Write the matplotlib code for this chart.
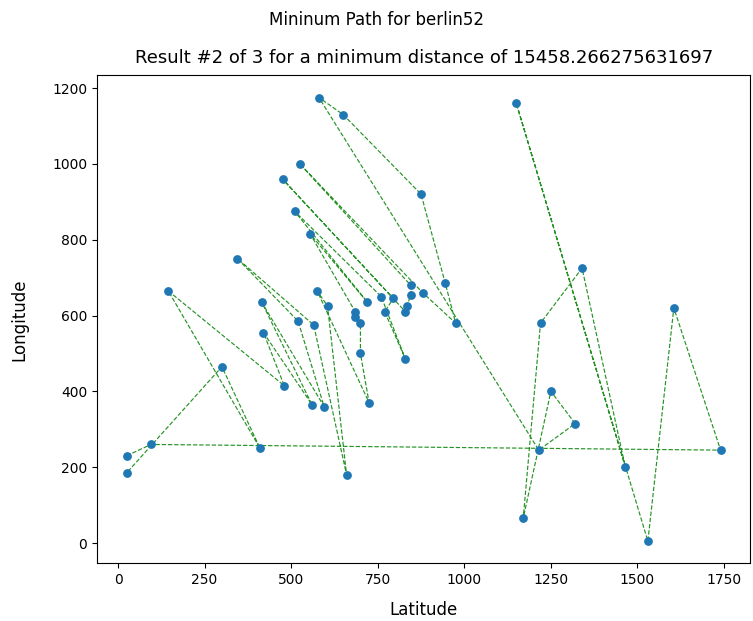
import matplotlib
matplotlib.use("Agg")
import matplotlib.pyplot as plt

# berlin52 city coordinates (city id = index + 1)
node_x = [565, 25, 345, 945, 845, 880, 25, 525, 580, 650, 1605, 1220, 1465, 1530, 845, 725, 145, 415, 510, 560,
          300, 520, 480, 835, 975, 1215, 1320, 1250, 660, 410, 420, 575, 1150, 700, 685, 685, 770, 795, 720, 760,
          475, 95, 875, 700, 555, 830, 1170, 830, 605, 595, 1340, 1740]
node_y = [575, 185, 750, 685, 655, 660, 230, 1000, 1175, 1130, 620, 580, 200, 5, 680, 370, 665, 635, 875, 365,
          465, 585, 415, 625, 580, 245, 315, 400, 180, 250, 555, 665, 1160, 580, 595, 610, 610, 645, 635, 650,
          960, 260, 920, 500, 815, 485, 65, 610, 625, 360, 725, 245]

# visiting order of the plotted path (1-based city ids)
route = [7, 42, 52, 11, 14, 33, 13, 51, 12, 47, 28, 27, 26, 9, 10, 43, 4, 25, 6, 8,
         15, 5, 24, 48, 41, 38, 37, 46, 40, 19, 39, 45, 36, 35, 34, 44, 16, 32, 49, 29,
         1, 3, 22, 50, 18, 20, 31, 23, 17, 30, 21, 2]

title = "Mininum Path for berlin52"
subtitle = "Result #2 of 3 for a minimum distance of 15458.266275631697"
x_label = "Latitude"
y_label = "Longitude"

fig = plt.figure(figsize=(7.53, 6.21), dpi=100)
ax = fig.add_axes([0.1288, 0.0929, 0.8676, 0.7858])

rx = [node_x[i - 1] for i in route]
ry = [node_y[i - 1] for i in route]
ax.plot(rx, ry, color="green", linestyle="--", linewidth=0.85, alpha=0.85)
ax.scatter(node_x, node_y, s=28, color="#1f77b4", zorder=3)

ax.set_xlabel(x_label, fontsize=12, labelpad=10)
ax.set_ylabel(y_label, fontsize=12, labelpad=17)
ax.set_title(subtitle, fontsize=13, pad=9)
fig.suptitle(title, fontsize=12, y=0.9815)

fig.savefig("out.png", dpi=100)
